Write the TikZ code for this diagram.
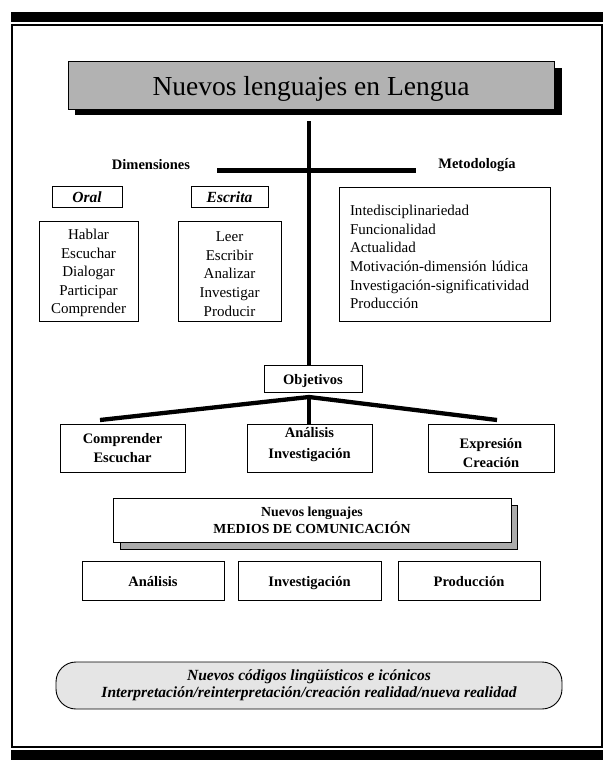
\documentclass[tikz,border=0pt]{standalone}
\usepackage{fontspec}
\setmainfont{Liberation Serif}
\begin{document}
\begin{tikzpicture}[x=1pt,y=-1pt,
  bx/.style={draw,line width=0.9pt,inner sep=0pt,align=center},
  thickln/.style={line width=4.3pt},
  bodyf/.style={font=\fontsize{15}{18.6}\selectfont},
  boldf/.style={font=\fontsize{14.5}{19.5}\selectfont\bfseries},
  itf/.style={font=\fontsize{15.5}{17}\selectfont\bfseries\itshape},
  onel/.style={text height=12pt,text depth=1pt},
]
\useasboundingbox (0,0) rectangle (614,768);
% page bars and frame
\fill (11,12) rectangle (603,22);
\fill (11,750) rectangle (603,760);
\draw[line width=1.3pt] (12,25) rectangle (602,747);
% title
\fill (75,68) rectangle (562,115);
\node[bx,fill=black!30,minimum width=486pt,minimum height=48pt,text height=22pt,text depth=1pt,font=\fontsize{27.5}{30}\selectfont] (title) at (311,85) {Nuevos lenguajes en Lengua};
% trunk
\coordinate (top) at (309,121);
\coordinate (hl) at (217,170.5);
\coordinate (hr) at (416,170.5);
\node[boldf] (dim) at (151,165) {Dimensiones};
\node[boldf] (met) at (477,165) {Metodología};
\draw[line width=5pt] (hl) -- (hr);
% Oral / Escrita
\node[bx,itf,minimum width=70pt,minimum height=21pt] (oral) at (87,197) {Oral};
\node[bx,itf,minimum width=77pt,minimum height=21pt] (escrita) at (229.5,197) {Escrita};
\node[bx,minimum width=99pt,minimum height=100pt] (orallist) at (88.5,271) {};
\node[bodyf,align=center] (orallistt) at (88.5,273) {Hablar\\Escuchar\\Dialogar\\Participar\\Comprender};
\node[bx,minimum width=103pt,minimum height=100pt] (escrlist) at (229.5,271) {};
\node[bodyf,align=center] (escrlistt) at (229.5,274) {Leer\\Escribir\\Analizar\\Investigar\\Producir};
\node[bx,minimum width=211pt,minimum height=134pt] (metlist) at (444.5,254) {};
\node[bodyf,align=left,text width=189pt,inner sep=0pt] (metlistt) at (444.5,257) {Intedisciplinariedad\\Funcionalidad\\Actualidad\\Motivación-dimensión lúdica\\Investigación-significatividad\\Producción};
% objetivos
\node[bx,boldf,onel,minimum width=98pt,minimum height=27pt] (obj) at (313,378.5) {Objetivos};
\draw[thickln] (top) -- (top |- obj.north);
\coordinate (br) at (309,397);
\coordinate (bl) at (100,420);
\coordinate (brr) at (497,420);
\node[bx,minimum width=125pt,minimum height=48pt] (o1) at (122.5,448) {};
\node[bx,minimum width=125pt,minimum height=48pt] (o2) at (309.5,448) {};
\node[bx,minimum width=126pt,minimum height=48pt] (o3) at (491,448) {};
\node[boldf,align=center] (o1t) at (o1.center) {Comprender\\Escuchar};
\node[boldf,align=center,font=\fontsize{14.5}{21}\selectfont\bfseries] (o2t) at ([yshift=3pt]o2.center) {Análisis\\Investigación};
\node[boldf,align=center] (o3t) at ([yshift=-5pt]o3.center) {Expresión\\Creación};
\draw[thickln] (bl) -- (br) -- (brr);
\draw[thickln] (br) -- (br |- o2.north);
% nuevos lenguajes
\draw[line width=0.9pt,fill=black!33] (120,505) rectangle (517,549);
\node[bx,fill=white,minimum width=398pt,minimum height=44pt,font=\fontsize{13.8}{17}\selectfont\bfseries] (nl) at (312,520) {Nuevos lenguajes\\MEDIOS DE COMUNICACIÓN};
\node[bx,boldf,onel,minimum width=142pt,minimum height=39pt] (a1) at (153,580.5) {Análisis};
\node[bx,boldf,onel,minimum width=143pt,minimum height=39pt] (a2) at (309.5,580.5) {Investigación};
\node[bx,boldf,onel,minimum width=142pt,minimum height=39pt] (a3) at (469,580.5) {Producción};
% bottom rounded
\node[bx,fill=black!10,rounded corners=20pt,minimum width=506pt,minimum height=47pt,itf] (codes) at (309,685.5) {Nuevos códigos lingüísticos e icónicos\\Interpretación/reinterpretación/creación realidad/nueva realidad};
\end{tikzpicture}
\end{document}
